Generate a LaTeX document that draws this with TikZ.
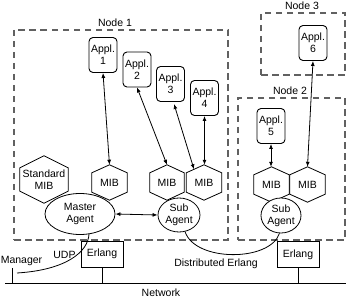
\documentclass[tikz,border=0pt]{standalone}
\usepackage{fontspec}
\setmainfont{Liberation Sans}
\usetikzlibrary{arrows.meta,shapes.geometric,calc}
\newcommand\hexnode[7]{% name, x, y, w, h, point height, text
  \node[hexbox,minimum width=#4pt,minimum height=#5pt] (#1) at (#2,#3) {#7};
  \draw[line] (#1.north) -- ($(#1.north east)+(0,#6)$) -- ($(#1.south east)+(0,-#6)$)
    -- (#1.south) -- ($(#1.south west)+(0,-#6)$) -- ($(#1.north west)+(0,#6)$) -- cycle;
}
\begin{document}
\begin{tikzpicture}[x=1pt,y=-1pt,
  font=\fontsize{10.5}{12}\selectfont,
  line/.style={line width=0.8pt},
  appl/.style={draw,line width=0.9pt,rounded corners=4pt,minimum width=28pt,minimum height=35pt,align=center,inner sep=0pt},
  hexbox/.style={inner sep=0pt,align=center},
  agent/.style={draw,ellipse,fill=white,line width=0.8pt,inner sep=0pt,align=center},
  nodebox/.style={draw=black!62,dash pattern=on 6.5pt off 4.5pt,line width=1.1pt,inner sep=0pt},
  erl/.style={draw,line width=0.8pt,minimum width=42pt,minimum height=26pt,inner sep=0pt},
  dbl/.style={line width=0.8pt,{Latex[length=5pt,width=4pt]}-{Latex[length=5pt,width=4pt]}},
  lbl/.style={inner sep=0pt,anchor=base}]
\useasboundingbox (0,0) rectangle (346,299);
% dashed node boxes
\node[nodebox,minimum width=214pt,minimum height=210pt] (n1) at (121,135) {};
\node[nodebox,minimum width=84pt,minimum height=62pt] (n3) at (303,44) {};
\node[nodebox,minimum width=107pt,minimum height=142pt] (n2) at (291.5,169) {};
\node[lbl] (n1l) at (115,27) {Node 1};
\node[lbl] (n3l) at (302,9.5) {Node 3};
\node[lbl] (n2l) at (290,95) {Node 2};
% applications
\node[appl] (a1) at (103,55) {Appl.\\1};
\node[appl] (a2) at (137,69.5) {Appl.\\2};
\node[appl] (a3) at (170.5,84) {Appl.\\3};
\node[appl] (a4) at (204.5,98) {Appl.\\4};
\node[appl] (a5) at (271,126) {Appl.\\5};
\node[appl] (a6) at (313,43) {Appl.\\6};
% MIBs
\hexnode{smib}{44}{179.5}{48}{47}{12}{Standard\\MIB}
\hexnode{mibm}{109.5}{182.5}{35}{35}{8}{MIB}
\hexnode{mibs1}{167}{182.5}{34}{35}{8}{MIB}
\hexnode{mibs2}{204}{182.5}{35}{35}{8}{MIB}
\hexnode{mibn1}{271.5}{184.5}{35}{35}{8}{MIB}
\hexnode{mibn2}{307.5}{184.5}{35}{35}{8}{MIB}
% agents
\node[agent,minimum width=70pt,minimum height=41pt] (master) at (80,214) {Master\\Agent};
\node[agent,minimum width=42pt,minimum height=34pt] (sub1) at (179,215) {Sub\\Agent};
\node[agent,minimum width=40pt,minimum height=35pt] (sub2) at (281,215.5) {Sub\\Agent};
% application arrows
\draw[dbl] (a1.south) -- (mibm.north);
\draw[dbl] (a2.south) -- (mibs1.north);
\draw[dbl] ($(a3.south)+(3.5,2)$) -- ($(mibs2.north)+(-10,4.5)$);
\draw[dbl] (a4.south) -- (a4.south |- mibs2.north);
\draw[dbl] (a5.south) -- (a5.south |- mibn1.north);
\draw[dbl] (a6.south) -- (mibn2.north);
\draw[dbl] (master.east) -- (sub1.west);
% Erlang boxes and network
\node[erl] (e1) at (102,254) {Erlang};
\node[erl] (e2) at (298,254.5) {Erlang};
\coordinate (netL) at (5,283);
\coordinate (netR) at (346,283);
\draw[line] (netL) -- (netR);
\draw[line] (e1.south) -- (e1.south |- netL);
\draw[line] (e2.south) -- (e2.south |- netL);
\node[lbl] (net) at (161,297) {Network};
% manager and UDP
\node[lbl] (mgr) at (21.5,264) {Manager};
\coordinate (mgrtop) at (12,268);
\draw[line] (mgrtop) -- (mgrtop |- netL);
\coordinate (uend) at (17,273);
\draw[line] (master.294) .. controls (88,252) and (66,270) .. (uend);
\node[lbl] (udp) at (64.5,259) {UDP};
% distributed Erlang
\draw[line] (sub1.290) .. controls (195,262) and (270,262) .. (sub2.265);
\node[lbl] (de) at (216,267) {Distributed Erlang};
\end{tikzpicture}
\end{document}
